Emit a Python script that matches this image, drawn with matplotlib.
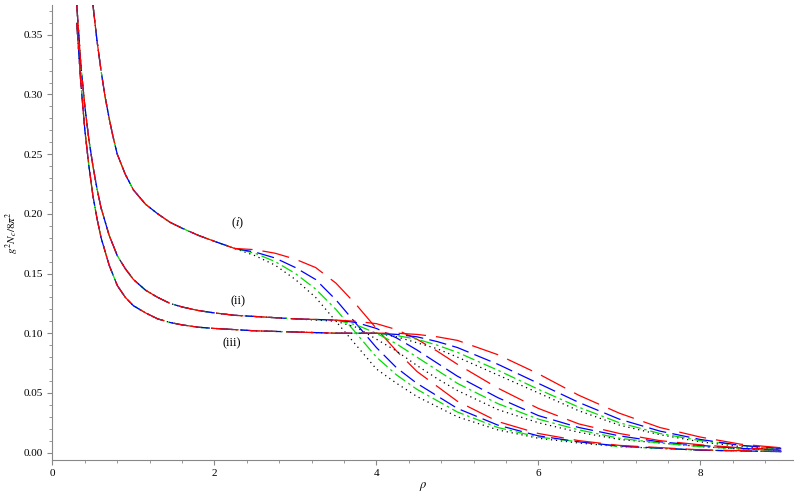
import matplotlib
matplotlib.use("Agg")
import matplotlib.pyplot as plt
from matplotlib.ticker import MultipleLocator

plt.rcParams["font.family"] = "Liberation Serif"
plt.rcParams["mathtext.fontset"] = "stix"

# ── family (i) ────────────────────────────────────────────────────────────────
i_left_rho = [0.5, 0.55, 0.6, 0.65, 0.7, 0.75, 0.8, 0.9, 1.0, 1.15, 1.3, 1.45, 1.6, 1.8, 2.0, 2.25]
i_left_val = [0.375, 0.345, 0.32, 0.298, 0.28, 0.264, 0.25, 0.233, 0.22, 0.208, 0.2, 0.193,
              0.188, 0.182, 0.177, 0.171]
i_rho = [2.5, 2.75, 3.0, 3.25, 3.5, 3.75, 4.0, 4.25, 4.5, 5.0, 5.5, 6.0, 6.5, 7, 8, 9]
i_black = [.165, .157, .145, .13, .11, .09, .07, .058, .047, .03, .019, .012, .008, .005, .002, .0008]
i_green = [.167, .16, .15, .137, .12, .10, .08, .065, .053, .034, .021, .013, .009, .005, .002, .0008]
i_blue = [.168, .163, .155, .145, .128, .108, .088, .071, .058, .037, .023, .014, .009, .0055, .002, .0008]
i_red = [.170, .167, .162, .155, .142, .124, .104, .085, .068, .043, .026, .016, .010, .006, .0023, .0009]

# ── family (ii) ───────────────────────────────────────────────────────────────
ii_left_rho = [0.3, 0.35, 0.4, 0.45, 0.5, 0.55, 0.6, 0.7, 0.8, 0.9, 1.0, 1.15, 1.3, 1.45,
               1.6, 1.8, 2.0, 2.25, 2.5, 2.75]
ii_left_val = [0.375, 0.325, 0.29, 0.262, 0.24, 0.221, 0.205, 0.182, 0.165, 0.154, 0.145,
               0.136, 0.13, 0.125, 0.122, 0.119, 0.117, 0.115, 0.114, 0.113]
ii_rho = [3.0, 3.5, 3.75, 4.0, 4.25, 4.5, 4.75, 5.0, 5.5, 6.0, 6.5, 7, 7.5, 8, 8.5, 9]
ii_black = [.112, .110, .105, .095, .085, .073, .062, .052, .036, .025, .017, .011, .008, .005, .003, .002]
ii_green = [.112, .111, .107, .1, .091, .08, .069, .058, .041, .028, .019, .012, .008, .005, .003, .002]
ii_blue = [.112, .111, .109, .104, .096, .086, .075, .064, .046, .031, .021, .014, .009, .006, .0035, .002]
ii_red = [.112, .111, .11, .108, .103, .095, .085, .074, .054, .037, .024, .016, .010, .0065, .004, .0025]

# ── family (iii) ──────────────────────────────────────────────────────────────
iii_left_rho = [0.3, 0.35, 0.4, 0.45, 0.5, 0.55, 0.6, 0.7, 0.8, 0.9, 1.0, 1.15, 1.3, 1.45,
                1.6, 1.8, 2.0, 2.25, 2.5, 2.75]
iii_left_val = [0.36, 0.31, 0.27, 0.24, 0.215, 0.196, 0.18, 0.157, 0.14, 0.13, 0.123, 0.117,
                0.112, 0.109, 0.107, 0.105, 0.104, 0.103, 0.102, 0.1015]
iii_rho = [3.0, 3.5, 4.0, 4.25, 4.5, 4.75, 5.0, 5.5, 6.0, 6.5, 7, 7.5, 8, 8.5, 9]
iii_black = [.101, .1, .1, .097, .092, .087, .08, .065, .05, .035, .023, .015, .009, .005, .003]
iii_green = [.101, .1, .1, .098, .095, .09, .084, .069, .053, .038, .025, .016, .01, .006, .003]
iii_blue = [.101, .1, .1, .099, .097, .093, .088, .074, .058, .042, .028, .018, .011, .006, .0035]
iii_red = [.101, .1, .1, .1, .099, .097, .094, .082, .066, .048, .033, .021, .013, .007, .004]

STYLES = [
    ("black", (0, (1, 3)), 0.9),
    ("#00dd00", (0, (10, 3, 2, 3)), 0.9),
    ("#0000ff", (0, (14, 5)), 0.9),
    ("#ff0000", (0, (22, 8)), 0.9),
]

fig = plt.figure(figsize=(7.95, 4.97), dpi=100)
ax = fig.add_axes([0.066, 0.075, 0.932, 0.915])

families = [
    (i_left_rho, i_left_val, i_rho, [i_black, i_green, i_blue, i_red]),
    (ii_left_rho, ii_left_val, ii_rho, [ii_black, ii_green, ii_blue, ii_red]),
    (iii_left_rho, iii_left_val, iii_rho, [iii_black, iii_green, iii_blue, iii_red]),
]
for left_rho, left_val, rho, tails in families:
    for (color, ls, lw), tail in zip(STYLES, tails):
        ax.plot(left_rho + rho, left_val + tail, color=color, linestyle=ls, linewidth=lw)

ax.text(2.2, 0.19, r"($i$)", fontsize=9)
ax.text(2.2, 0.124, "(ii)", fontsize=9)
ax.text(2.1, 0.089, "(iii)", fontsize=9)

ax.set_xlim(0, 9.15)
ax.set_ylim(-0.006, 0.375)
ax.xaxis.set_major_locator(MultipleLocator(2))
ax.xaxis.set_minor_locator(MultipleLocator(0.4))
ax.yaxis.set_minor_locator(MultipleLocator(0.01))
ax.set_yticks([0, 0.05, 0.1, 0.15, 0.2, 0.25, 0.3, 0.35])
ax.set_yticklabels(["0.00", "0.05", "0.10", "0.15", "0.20", "0.25", "0.30", "0.35"])
ax.tick_params(labelsize=8, color="#888888", direction="out")
ax.tick_params(which="minor", length=2, color="#888888")
for s in ["top", "right"]:
    ax.spines[s].set_visible(False)
for s in ["left", "bottom"]:
    ax.spines[s].set_color("#888888")
ax.set_xlabel(r"$\rho$", fontsize=9, labelpad=1)
ax.set_ylabel(r"$g^2 N_c/8\pi^2$", fontsize=8, labelpad=2)

fig.savefig("out.png", dpi=100)
